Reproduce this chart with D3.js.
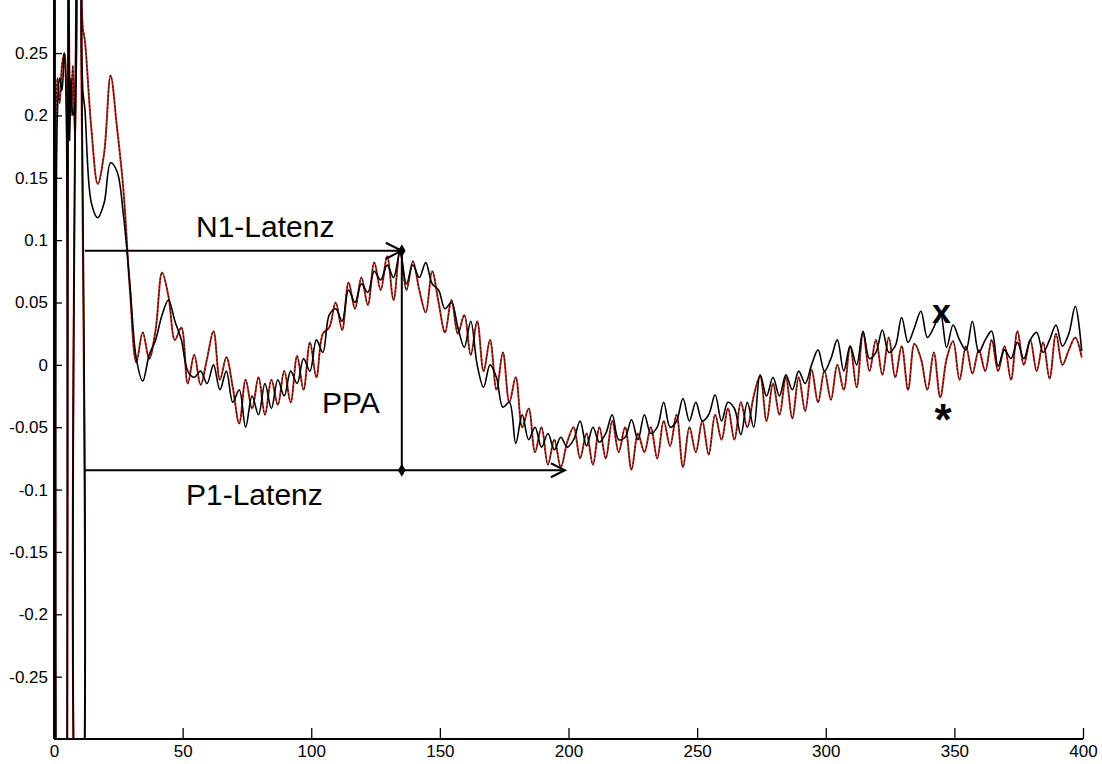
<!DOCTYPE html>
<html>
<head>
<meta charset="utf-8">
<script src="https://cdn.jsdelivr.net/npm/d3@7"></script>
<style>
  body { margin: 0; background: #fff; }
  svg { display: block; }
  text { font-family: Arial, "Liberation Sans", sans-serif; }
</style>
</head>
<body>
<script>
const width = 1102
const height = 764

// stimulus artifact at the very start (ms, value)
const artifactTime = [0, 0.3, 0.7, 1.3, 2.2, 3.1, 4.0, 4.8, 5.1, 5.6, 6.1, 6.6, 7.3, 8.2, 9.0, 9.5, 10.1, 10.6, 11.2]
const artifactRed = [0.13, 0.40, -0.40, 0.23, 0.21, 0.24, 0.25, 0.22, -0.40, 0.40, 0.22, 0.20, 0.24, 0.18, 0.40, -0.40, -0.40, 0.30, 0.27]
const artifactBlack = [0.10, 0.40, -0.40, 0.20, 0.23, 0.22, 0.25, 0.20, -0.40, 0.40, 0.18, 0.23, 0.20, 0.21, 0.40, -0.40, -0.40, 0.30, 0.22]

// regular samples after the artifact: 12 ms, every 2.5 ms
const sampleStart = 12
const sampleStep = 2.5

const redValues = [
  0.26, 0.19, 0.145, 0.17, 0.232, 0.19, 0.14, 0.06, 0.002,
  0.026, 0.005, 0.028, 0.074, 0.055, 0.02, 0.03, -0.015, 0.008, -0.016,
  0.005, 0.027, -0.012, 0.006, -0.018, -0.047, -0.012, -0.035, -0.01, -0.04,
  -0.012, -0.032, -0.005, -0.03, 0.007, -0.02, 0.018, -0.01, 0.025, 0.03,
  0.05, 0.028, 0.066, 0.045, 0.07, 0.048, 0.082, 0.06, 0.087, 0.052,
  0.092, 0.06, 0.083, 0.06, 0.042, 0.075, 0.05, 0.026, 0.052, 0.025,
  0.04, 0.008, 0.035, -0.005, 0.02, -0.02, 0.01, -0.03, -0.01, -0.05,
  -0.035, -0.07, -0.05, -0.08, -0.06, -0.082, -0.062,
  -0.05, -0.075, -0.055, -0.08, -0.05, -0.075, -0.045, -0.07, -0.05, -0.084,
  -0.055, -0.07, -0.05, -0.075, -0.045, -0.065, -0.04, -0.082, -0.05, -0.07,
  -0.045, -0.072, -0.04, -0.06, -0.035, -0.06, -0.03, -0.05, -0.025, -0.009,
  -0.045, -0.015, -0.04, -0.01, -0.043, -0.01, -0.037, -0.004, -0.03, -0.005,
  -0.028, 0.0, -0.02, 0.015, -0.018, 0.026, -0.005, 0.02, -0.008, 0.022,
  -0.01, 0.015, -0.02, 0.017, 0.005, -0.02, 0.01, -0.026, 0.005, 0.019,
  -0.012, 0.015, -0.007, 0.012, -0.005, 0.02, -0.005, 0.015, -0.012, 0.027,
  0.0, 0.02, -0.005, 0.018, -0.011, 0.025, 0.0, 0.012, 0.022, 0.006
]

const blackValues = [
  0.205, 0.13, 0.118, 0.13, 0.162, 0.155, 0.12, 0.065, 0.005,
  -0.013, 0.008, 0.02, 0.04, 0.052, 0.035, 0.02, -0.005, -0.01, -0.005,
  -0.015, 0.0, -0.02, -0.005, -0.03, -0.02, -0.05, -0.025, -0.04, -0.015,
  -0.035, -0.012, -0.025, -0.005, -0.015, 0.005, -0.005, 0.02, 0.01, 0.04,
  0.045, 0.035, 0.06, 0.05, 0.065, 0.058, 0.075, 0.068, 0.08, 0.07,
  0.09, 0.065, 0.08, 0.07, 0.082, 0.065, 0.06, 0.045, 0.05, 0.03,
  0.014, 0.035, 0.0, -0.018, 0.0, -0.01, -0.034, -0.03, -0.063, -0.04,
  -0.06, -0.05, -0.066, -0.055, -0.068, -0.058, -0.066,
  -0.06, -0.045, -0.065, -0.05, -0.062, -0.055, -0.04, -0.06, -0.058, -0.044,
  -0.06, -0.04, -0.055, -0.05, -0.03, -0.05, -0.045, -0.027, -0.045, -0.03,
  -0.045, -0.04, -0.024, -0.045, -0.03, -0.035, -0.056, -0.03, -0.05, -0.008,
  -0.025, -0.01, -0.025, -0.008, -0.02, -0.005, -0.015, 0.0, 0.012, -0.005,
  0.005, 0.02, -0.005, 0.015, 0.0, 0.027, 0.005, 0.01, 0.028, 0.01,
  0.015, 0.038, 0.018, 0.03, 0.043, 0.022, 0.03, 0.042, 0.014, 0.032,
  0.02, 0.012, 0.035, 0.01, 0.02, 0.027, -0.001, 0.012, 0.005, 0.018,
  0.005, 0.02, 0.026, 0.01, 0.02, 0.032, 0.015, 0.025, 0.047, 0.011
]

const xTicks = [0, 50, 100, 150, 200, 250, 300, 350, 400]
const yTicks = [-0.25, -0.2, -0.15, -0.1, -0.05, 0, 0.05, 0.1, 0.15, 0.2, 0.25]

// annotation anchors (ms, value)
const latencyStart = 12
const n1Peak = {t: 135.2, v: 0.0915}
const p1Trough = {t: 135.2, v: -0.0845}
const p1ArrowEnd = 198.6
const xMark = {t: 345, v: 0.041}
const starMark = {t: 345.6, v: -0.037}

const sampleTime = redValues.map((d, i) => sampleStart + i * sampleStep)

const red = artifactTime.map((t, i) => [t, artifactRed[i]])
  .concat(sampleTime.map((t, i) => [t, redValues[i]]))
const black = artifactTime.map((t, i) => [t, artifactBlack[i]])
  .concat(sampleTime.map((t, i) => [t, blackValues[i]]))

const x = d3.scaleLinear().domain([0, 400]).range([54, 1083])
const y = d3.scaleLinear().domain([-0.3, 0.3]).range([739, -9.3])

const svg = d3.select('body').append('svg')
  .attr('width', width)
  .attr('height', height)

svg.append('defs').append('clipPath').attr('id', 'plot')
  .append('rect')
  .attr('x', x(0)).attr('y', 0)
  .attr('width', width - x(0)).attr('height', y(-0.3))

const line = d3.line()
  .x(d => x(d[0]))
  .y(d => y(d[1]))
  .curve(d3.curveCatmullRom.alpha(0.5))

const traces = svg.append('g').attr('clip-path', 'url(#plot)')

traces.append('path')
  .datum(red)
  .attr('d', line)
  .attr('fill', 'none')
  .attr('stroke', '#d42a1c')
  .attr('stroke-width', 2)

traces.append('path')
  .datum(red)
  .attr('d', line)
  .attr('fill', 'none')
  .attr('stroke', '#1a1a1a')
  .attr('stroke-width', 1.1)
  .attr('stroke-dasharray', '2.5,1.5')

traces.append('path')
  .datum(black)
  .attr('d', line)
  .attr('fill', 'none')
  .attr('stroke', '#000')
  .attr('stroke-width', 1.6)

// axes, MATLAB style with inward ticks
const xAxis = svg.append('g')
  .attr('transform', `translate(0,${y(-0.3)})`)
  .call(d3.axisBottom(x).tickValues(xTicks).tickSizeInner(-11).tickSizeOuter(0).tickPadding(6))
const yAxis = svg.append('g')
  .attr('transform', `translate(${x(0)},0)`)
  .call(d3.axisLeft(y).tickValues(yTicks).tickSizeInner(-8).tickSizeOuter(0).tickPadding(6)
    .tickFormat(d => String(+d.toFixed(2))))

xAxis.select('.domain').attr('stroke-width', 2).attr('d', `M${x(0)},0H${x(400)}`)
yAxis.select('.domain').attr('stroke-width', 2).attr('d', `M0,0V${y(-0.3)}`)
svg.selectAll('.tick line').attr('stroke-width', 1.3)
svg.selectAll('.tick text')
  .attr('font-size', 17)
  .attr('font-family', 'Arial, "Liberation Sans", sans-serif')
  .attr('fill', '#000')

// annotations
const ann = svg.append('g').attr('stroke', '#000').attr('stroke-width', 2).attr('fill', 'none')

ann.append('line')
  .attr('x1', x(latencyStart)).attr('x2', x(n1Peak.t))
  .attr('y1', y(n1Peak.v)).attr('y2', y(n1Peak.v))
ann.append('path')
  .attr('d', `M${x(n1Peak.t) - 16},${y(n1Peak.v) - 8}L${x(n1Peak.t)},${y(n1Peak.v)}L${x(n1Peak.t) - 16},${y(n1Peak.v) + 8}`)

ann.append('line')
  .attr('x1', x(latencyStart)).attr('x2', x(p1ArrowEnd))
  .attr('y1', y(p1Trough.v)).attr('y2', y(p1Trough.v))
ann.append('path')
  .attr('d', `M${x(p1ArrowEnd) - 14},${y(p1Trough.v) - 7}L${x(p1ArrowEnd)},${y(p1Trough.v)}L${x(p1ArrowEnd) - 14},${y(p1Trough.v) + 7}`)

ann.append('line')
  .attr('x1', x(n1Peak.t)).attr('x2', x(p1Trough.t))
  .attr('y1', y(n1Peak.v)).attr('y2', y(p1Trough.v))

svg.selectAll('.diamond')
  .data([n1Peak, p1Trough])
  .enter().append('path')
  .attr('class', 'diamond')
  .attr('d', d3.symbol(d3.symbolDiamond, 50))
  .attr('transform', d => `translate(${x(d.t)},${y(d.v)})`)
  .attr('fill', '#000')

svg.append('text')
  .attr('x', 196).attr('y', y(n1Peak.v) - 14)
  .attr('font-size', 30)
  .text('N1-Latenz')

svg.append('text')
  .attr('x', 322).attr('y', 413)
  .attr('font-size', 30)
  .text('PPA')

svg.append('text')
  .attr('x', 186).attr('y', y(p1Trough.v) + 35)
  .attr('font-size', 30)
  .text('P1-Latenz')

svg.append('text')
  .attr('x', x(xMark.t)).attr('y', y(xMark.v) + 9)
  .attr('text-anchor', 'middle')
  .attr('font-size', 34)
  .attr('font-weight', 'bold')
  .text('x')

svg.append('text')
  .attr('x', x(starMark.t)).attr('y', y(starMark.v) + 24)
  .attr('text-anchor', 'middle')
  .attr('font-size', 44)
  .attr('font-weight', 'bold')
  .text('*')
</script>
</body>
</html>
